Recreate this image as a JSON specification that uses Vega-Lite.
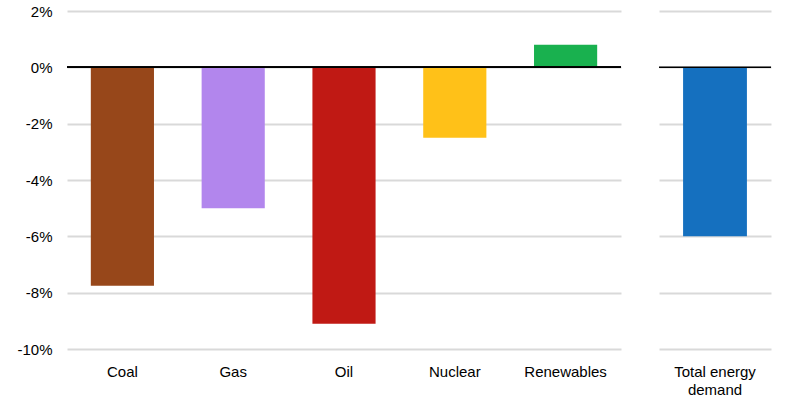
{
  "$schema": "https://vega.github.io/schema/vega-lite/v6.json",
  "padding": {"left": 16, "top": 4, "right": 5, "bottom": 5},
  "background": "white",
  "config": {
    "view": {"stroke": null},
    "font": "Liberation Sans",
    "axis": {"labelFont": "Liberation Sans", "labelFontSize": 15, "labelColor": "#000000", "titleFont": "Liberation Sans"}
  },
  "data": {"values": [
    {"source": "Coal", "change": -7.75, "panel": "fuels"},
    {"source": "Gas", "change": -5.0, "panel": "fuels"},
    {"source": "Oil", "change": -9.1, "panel": "fuels"},
    {"source": "Nuclear", "change": -2.5, "panel": "fuels"},
    {"source": "Renewables", "change": 0.8, "panel": "fuels"},
    {"source": "Total energy demand", "change": -6.0, "panel": "total"}
  ]},
  "resolve": {"scale": {"y": "shared", "color": "shared"}},
  "spacing": 36,
  "hconcat": [
    {
      "width": 554,
      "height": 338,
      "transform": [{"filter": "datum.panel == 'fuels'"}],
      "layer": [
        {
          "mark": {"type": "bar"},
          "encoding": {
            "x": {"field": "source", "type": "nominal", "sort": null,
              "scale": {"paddingInner": 0.43, "paddingOuter": 0.215},
              "axis": {"title": null, "labelAngle": 0, "domain": false, "ticks": false, "labelPadding": 15}},
            "y": {"field": "change", "type": "quantitative",
              "scale": {"domain": [-10, 2], "nice": false, "zero": false},
              "axis": {"title": null, "values": [-10, -8, -6, -4, -2, 0, 2], "labelExpr": "datum.value + '%'",
                "domain": false, "ticks": false, "labelPadding": 15, "gridColor": "#d9d9d9", "gridWidth": 2}},
            "color": {"field": "source", "type": "nominal", "legend": null,
              "scale": {"domain": ["Coal", "Gas", "Oil", "Nuclear", "Renewables", "Total energy demand"],
                "range": ["#97471A", "#B286ED", "#C01914", "#FFC118", "#19B14F", "#1570BF"]}}
          }
        },
        {
          "mark": {"type": "rule", "color": "#000000", "strokeWidth": 1.5},
          "encoding": {"y": {"datum": 0, "type": "quantitative"}}
        }
      ]
    },
    {
      "width": 112,
      "height": 338,
      "transform": [{"filter": "datum.panel == 'total'"}],
      "layer": [
        {
          "mark": {"type": "bar"},
          "encoding": {
            "x": {"field": "source", "type": "nominal", "sort": null,
              "scale": {"paddingInner": 0.43, "paddingOuter": 0.215},
              "axis": {"title": null, "labelAngle": 0, "domain": false, "ticks": false, "labelPadding": 15,
                "labelExpr": "datum.value == 'Total energy demand' ? ['Total energy', 'demand'] : datum.value", "labelLineHeight": 18}},
            "y": {"field": "change", "type": "quantitative",
              "scale": {"domain": [-10, 2], "nice": false, "zero": false},
              "axis": {"title": null, "values": [-10, -8, -6, -4, -2, 0, 2], "labels": false,
                "domain": false, "ticks": false, "gridColor": "#d9d9d9", "gridWidth": 2}},
            "color": {"field": "source", "type": "nominal", "legend": null}
          }
        },
        {
          "mark": {"type": "rule", "color": "#000000", "strokeWidth": 1.5},
          "encoding": {"y": {"datum": 0, "type": "quantitative"}}
        }
      ]
    }
  ]
}
